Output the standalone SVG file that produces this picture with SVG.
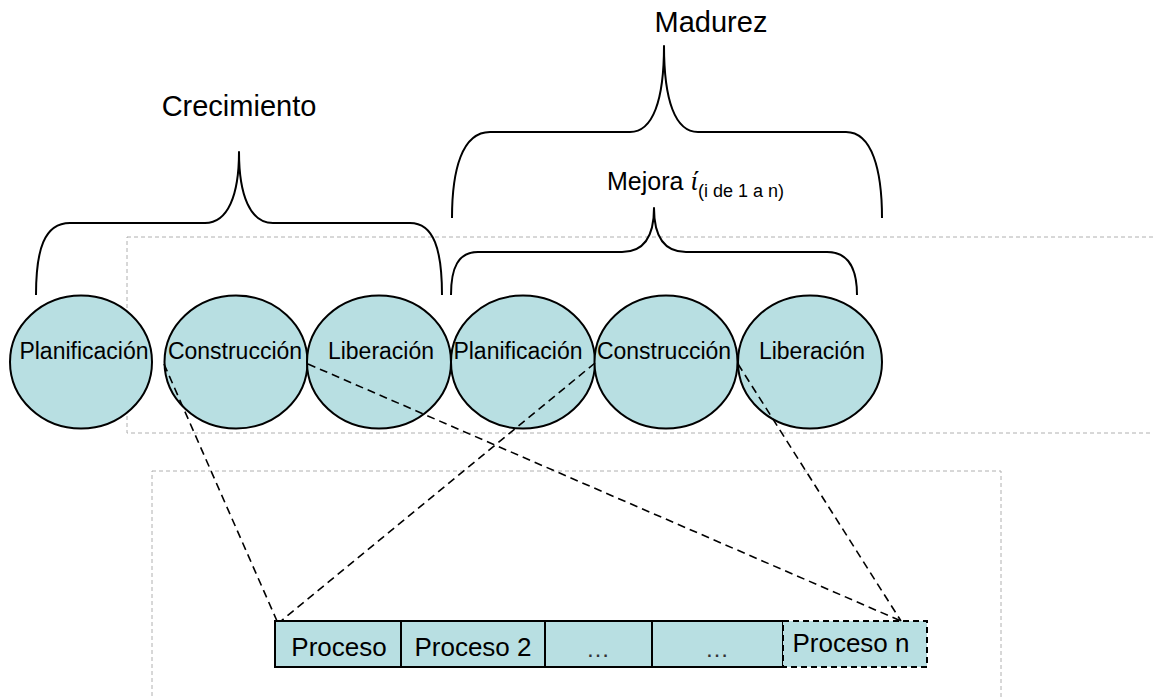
<svg xmlns="http://www.w3.org/2000/svg" width="1153" height="699" viewBox="0 0 1153 699">
  <style>
    .frame { fill: none; stroke: #b0b0b0; stroke-width: 1; stroke-dasharray: 4 3; }
    .brace { fill: none; stroke: #000; stroke-width: 2; stroke-linejoin: round; }
    .phase { fill: #b8dfe2; stroke: #000; stroke-width: 2; }
    .cell { fill: #b8dfe2; stroke: #000; stroke-width: 2; }
    .cell-open { fill: #b8dfe2; stroke: #000; stroke-width: 2; stroke-dasharray: 6 4; }
    .link { fill: none; stroke: #000; stroke-width: 1.6; stroke-dasharray: 8 5; }
    .title { font-family: "Liberation Sans", Arial, sans-serif; font-size: 29px; fill: #000; text-anchor: middle; }
    .label { font-family: "Liberation Sans", Arial, sans-serif; font-size: 23px; fill: #000; text-anchor: middle; }
    .proc { font-family: "Liberation Sans", Arial, sans-serif; font-size: 26px; fill: #000; text-anchor: middle; }
    .dots { font-family: "Liberation Sans", Arial, sans-serif; font-size: 24px; fill: #333; text-anchor: middle; }
  </style>

  <!-- background frames -->
  <g id="frames">
    <rect class="frame" x="127" y="237" width="1040" height="196"/>
    <rect class="frame" x="152" y="471" width="849" height="240"/>
  </g>

  <!-- phase titles and braces -->
  <g id="crecimiento">
    <text class="title" x="239" y="116">Crecimiento</text>
    <path class="brace" d="M36,295 C36,250 44,223 70,223 L205,223 C228,223 239,195 239,152 C239,195 250,223 273,223 L410,223 C434,223 442,250 442,295"/>
  </g>

  <g id="madurez">
    <text class="title" x="711" y="32">Madurez</text>
    <path class="brace" d="M452,218 C452,170 462,132 490,132 L630,132 C653,132 664,100 664,46 C664,100 675,132 698,132 L846,132 C872,132 882,170 882,218"/>
  </g>

  <g id="mejora">
    <text x="607" y="190" font-family="Liberation Sans, Arial, sans-serif" font-size="25" fill="#000">Mejora <tspan font-family="Liberation Serif, serif" font-style="italic" font-size="27">ί</tspan><tspan font-size="18" dy="7">(i de 1 a n)</tspan></text>
    <path class="brace" d="M451,295 C451,268 458,252 478,252 L622,252 C643,252 654,238 654,208 C654,238 665,252 686,252 L827,252 C848,252 857,268 857,295"/>
  </g>

  <!-- phase circles -->
  <g id="planificacion-1">
    <ellipse class="phase" cx="81" cy="362" rx="71" ry="66.5"/>
    <text class="label" x="84" y="359">Planificación</text>
  </g>
  <g id="construccion-1">
    <ellipse class="phase" cx="236" cy="362" rx="71.5" ry="66.5"/>
    <text class="label" x="235" y="359">Construcción</text>
  </g>
  <g id="liberacion-1">
    <ellipse class="phase" cx="379" cy="362" rx="72" ry="66.5"/>
    <text class="label" x="381" y="359">Liberación</text>
  </g>
  <g id="planificacion-2">
    <ellipse class="phase" cx="523" cy="362" rx="72" ry="66.5"/>
    <text class="label" x="518" y="359">Planificación</text>
  </g>
  <g id="construccion-2">
    <ellipse class="phase" cx="666" cy="362" rx="71.5" ry="66.5"/>
    <text class="label" x="664" y="359">Construcción</text>
  </g>
  <g id="liberacion-2">
    <ellipse class="phase" cx="810" cy="362" rx="72" ry="66.5"/>
    <text class="label" x="812" y="359">Liberación</text>
  </g>

  <!-- process strip -->
  <g id="proceso-1">
    <rect class="cell" x="275" y="621" width="126" height="46"/>
    <text class="proc" x="339" y="656">Proceso</text>
  </g>
  <g id="proceso-2">
    <rect class="cell" x="401" y="621" width="144" height="46"/>
    <text class="proc" x="473" y="656">Proceso 2</text>
  </g>
  <g id="proceso-3">
    <rect class="cell" x="545" y="621" width="107" height="46"/>
    <text class="dots" x="598" y="657">…</text>
  </g>
  <g id="proceso-4">
    <rect class="cell" x="652" y="621" width="131" height="46"/>
    <text class="dots" x="717" y="657">…</text>
  </g>
  <g id="proceso-n">
    <rect class="cell-open" x="783" y="621" width="144" height="46"/>
    <text class="proc" x="851" y="652">Proceso n</text>
  </g>

  <!-- dashed connectors from phases to the process strip -->
  <g id="connectors">
    <line class="link" x1="164" y1="364" x2="277" y2="621"/>
    <line class="link" x1="308" y1="364" x2="901" y2="621"/>
    <line class="link" x1="595" y1="363" x2="281" y2="621"/>
    <line class="link" x1="738" y1="364" x2="901" y2="621"/>
  </g>
</svg>
